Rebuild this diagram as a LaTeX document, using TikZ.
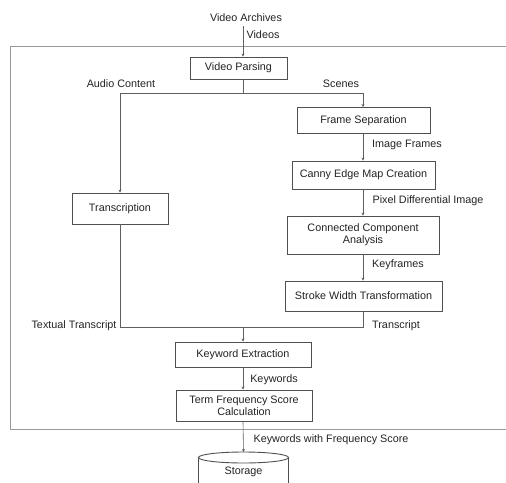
\documentclass[tikz,border=0pt]{standalone}
\usepackage{fontspec}
\setmainfont{Liberation Sans}
\usetikzlibrary{arrows.meta,calc}
\definecolor{linec}{RGB}{95,95,95}
\definecolor{boxc}{RGB}{80,80,80}
\definecolor{textc}{RGB}{35,35,35}
\tikzset{
  procbox/.style={draw=boxc, line width=0.9pt, fill=white, align=center, inner sep=1pt, font=\fontsize{10.8}{12}\selectfont, text=textc},
  lbl/.style={font=\fontsize{10.8}{12}\selectfont, text=textc, inner sep=0pt},
  conn/.style={draw=linec, line width=0.6pt, -{Stealth[length=3pt,width=3pt]}},
  plain/.style={draw=linec, line width=0.6pt}
}
\begin{document}
\begin{tikzpicture}[x=1pt,y=-1pt]
\useasboundingbox (0,0) rectangle (506,482);
\clip (0,0) rectangle (506,482);
% outer frame
\draw[draw=gray!80, line width=0.8pt] (10,46) -- (520,46);
\draw[draw=gray!80, line width=0.8pt] (10,46) -- (10,429) -- (520,429);
\coordinate (mx) at (243,0);
\coordinate (rx) at (363,0);
\coordinate (lx) at (120,0);
% nodes
\node[lbl] (va) at (246,18) {Video Archives};
\node[procbox, minimum width=97pt, minimum height=22pt] (vp) at (238.5,68) {Video Parsing};
\node[procbox, minimum width=133pt, minimum height=26pt] (fs) at (363.5,120.5) {Frame Separation};
\node[procbox, minimum width=143pt, minimum height=28pt] (ce) at (363.5,175) {Canny Edge Map Creation};
\node[procbox, minimum width=152pt, minimum height=38pt] (cc) at (363,235) {Connected Component\\Analysis};
\node[procbox, minimum width=157pt, minimum height=30pt] (sw) at (363.5,296) {Stroke Width Transformation};
\node[procbox, minimum width=96pt, minimum height=31pt] (tr) at (120,208.5) {Transcription};
\node[procbox, minimum width=136pt, minimum height=25pt] (ke) at (243,354.5) {Keyword Extraction};
\node[procbox, minimum width=136pt, minimum height=31pt] (tf) at (244,405.5) {Term Frequency Score\\Calculation};
% storage cylinder
\draw[draw=boxc, line width=0.9pt, fill=white] (198.5,457.5) -- (198.5,490) -- (288.5,490) -- (288.5,457.5);
\draw[draw=boxc, line width=0.9pt, fill=white] (243.5,457.5) ellipse [x radius=45, y radius=5.5];
\node[lbl] (st) at (243.5,472) {Storage};
\coordinate (sttop) at (243.5,452);
% junctions
\coordinate (j1) at (243,93);
\coordinate (j2) at (243,327);
% connectors
\draw[conn] ($(va.south)+(-3,4)$) -- (vp.north -| mx);
\draw[plain] (vp.south -| mx) -- (j1);
\draw[conn] (j1) -| (tr.north);
\draw[conn] (j1) -| (fs.north -| rx);
\draw[conn] (fs.south -| rx) -- (ce.north -| rx);
\draw[conn] (ce.south -| rx) -- (cc.north -| rx);
\draw[conn] (cc.south -| rx) -- (sw.north -| rx);
\draw[plain] (tr.south) |- (j2);
\draw[plain] (sw.south -| rx) |- (j2);
\draw[conn] (j2) -- (ke.north -| mx);
\draw[conn] (ke.south -| mx) -- (tf.north -| mx);
\draw[conn] (tf.south -| mx) -- (sttop);
% labels
\node[lbl] (l1) at (263,35) {Videos};
\node[lbl] (l2) at (121,84) {Audio Content};
\node[lbl] (l3) at (341,84) {Scenes};
\node[lbl] (l4) at (407,145) {Image Frames};
\node[lbl] (l5) at (428,201) {Pixel Differential Image};
\node[lbl] (l6) at (398,265) {Keyframes};
\node[lbl] (l7) at (74,326) {Textual Transcript};
\node[lbl] (l8) at (396,326) {Transcript};
\node[lbl] (l9) at (274,380) {Keywords};
\node[lbl] (l10) at (331,440) {Keywords with Frequency Score};
\end{tikzpicture}
\end{document}
